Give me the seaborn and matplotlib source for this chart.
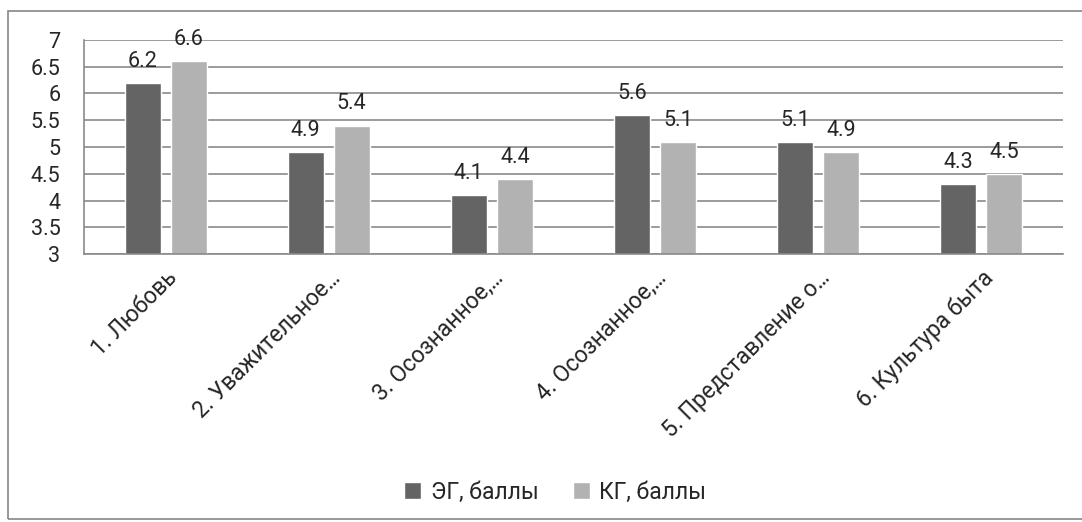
import pandas as pd
import seaborn as sns
import matplotlib.pyplot as plt
from matplotlib.patches import Rectangle

# --- Data ---
categories = ["1. Любовь", "2. Уважительное…", "3. Осознанное,…",
              "4. Осознанное,…", "5. Представление о…", "6. Культура быта"]
eg_values = [6.2, 4.9, 4.1, 5.6, 5.1, 4.3]
kg_values = [6.6, 5.4, 4.4, 5.1, 4.9, 4.5]
series_names = ["ЭГ, баллы", "КГ, баллы"]
colors = ["#646464", "#b2b2b2"]

df = pd.DataFrame({
    "category": categories * 2,
    "value": eg_values + kg_values,
    "group": [series_names[0]] * len(categories) + [series_names[1]] * len(categories),
})

# --- Style ---
sns.set_style("white")
plt.rcParams["font.family"] = ["Roboto", "DejaVu Sans"]
plt.rcParams["font.weight"] = "normal"
grid_color = "#8a8a8a"
fs = 15.5
fs_text = 16.5

fig = plt.figure(figsize=(10.82, 5.22), dpi=100)
ax = fig.add_axes([0.0776, 0.5134, 0.9048, 0.41])

sns.barplot(data=df, x="category", y="value", hue="group", palette=colors,
            width=0.564, gap=0.217, saturation=1, ax=ax, legend=True)

ax.set_ylim(3, 7)
ax.set_yticks([3, 3.5, 4, 4.5, 5, 5.5, 6, 6.5, 7])
ax.set_yticklabels(["3", "3.5", "4", "4.5", "5", "5.5", "6", "6.5", "7"], fontsize=fs)
ax.tick_params(axis="y", length=0, pad=17)
ax.tick_params(axis="x", length=0, pad=9)
ax.set_xlabel("")
ax.set_ylabel("")
ax.yaxis.grid(True, color=grid_color, linewidth=1.2)
ax.set_axisbelow(True)
for side in ["top", "right"]:
    ax.spines[side].set_visible(False)
for side in ["left", "bottom"]:
    ax.spines[side].set_color(grid_color)
    ax.spines[side].set_linewidth(1.2)

plt.setp(ax.get_xticklabels(), rotation=45, ha="right", va="top",
         rotation_mode="anchor", fontsize=fs_text)

# data labels
for container in ax.containers:
    ax.bar_label(container, labels=[f"{v:.1f}" for v in container.datavalues],
                 padding=8, fontsize=fs)

# legend at bottom
handles, labels = ax.get_legend_handles_labels()
ax.get_legend().remove()
fig.legend(handles, labels, loc="center", bbox_to_anchor=(0.513, 0.057), ncol=2,
           frameon=False, fontsize=fs_text, handlelength=0.75, handleheight=0.75,
           handletextpad=0.4, columnspacing=1.5)

# chart border
fig.patches.append(Rectangle((0.0074, 0.006), 1.0, 0.973, transform=fig.transFigure,
                             fill=False, edgecolor="#868686", linewidth=1.2))

plt.savefig("out.png", dpi=100)
